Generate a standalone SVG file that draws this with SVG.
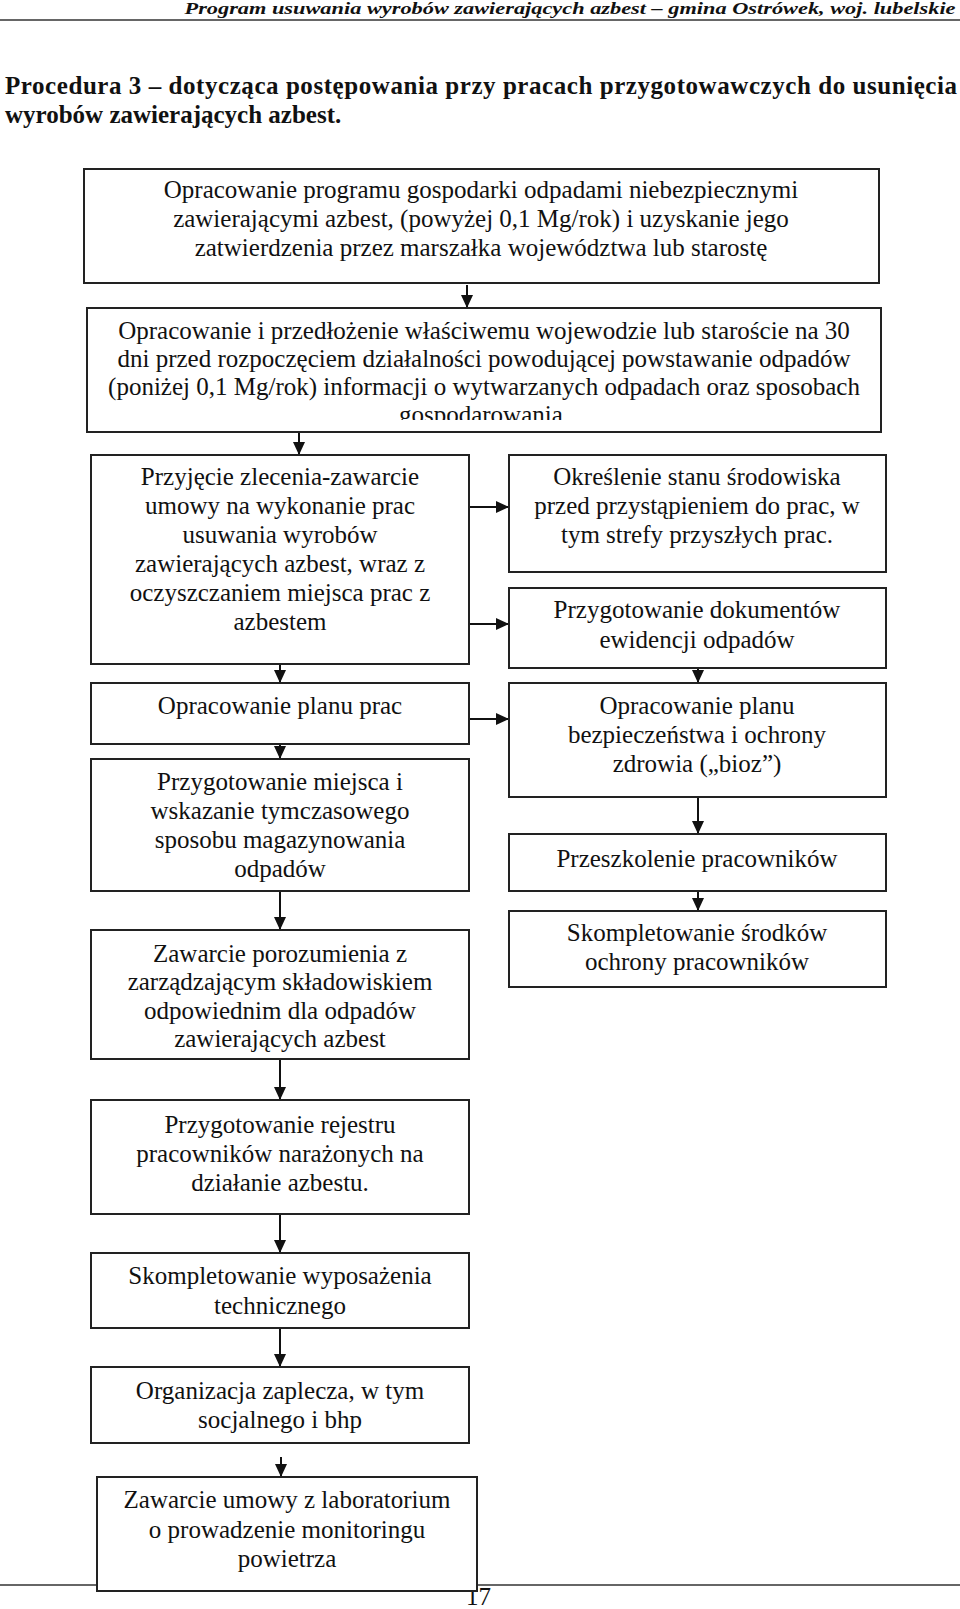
<svg xmlns="http://www.w3.org/2000/svg" width="960" height="1609" viewBox="0 0 960 1609">
<defs>
<style>
.bg{fill:#fff}
.box{fill:#fff;stroke:#222;stroke-width:2}
.t{font-family:"Liberation Serif","Times New Roman",serif;font-size:25px;fill:#111;text-anchor:middle}
.conn line{stroke:#111;stroke-width:2;fill:none}
.hdr{font-family:"Liberation Serif","Times New Roman",serif;font-size:17px;font-weight:bold;font-style:italic;fill:#111;text-anchor:middle}
.ttl{font-family:"Liberation Serif","Times New Roman",serif;font-size:25px;font-weight:bold;fill:#111}
</style>
<marker id="ah" markerUnits="userSpaceOnUse" markerWidth="13" markerHeight="12" refX="13" refY="6" orient="auto" viewBox="0 0 13 12">
<path d="M0,0 L13,6 L0,12 z" fill="#111"/>
</marker>
<clipPath id="clip2"><rect x="87" y="308" width="794" height="112"/></clipPath>
</defs>
<rect class="bg" x="0" y="0" width="960" height="1609"/>

<g id="header">
<text class="hdr" x="570" y="14" textLength="771" lengthAdjust="spacingAndGlyphs">Program  usuwania wyrobów zawierających azbest – gmina Ostrówek, woj. lubelskie</text>
<line x1="0" y1="20" x2="960" y2="20" stroke="#333" stroke-width="1.5"/>
</g>

<g id="title">
<text class="ttl" x="5" y="94" textLength="952" lengthAdjust="spacing">Procedura 3 – dotycząca postępowania przy pracach przygotowawczych do usunięcia</text>
<text class="ttl" x="5" y="123">wyrobów zawierających azbest.</text>
</g>

<g id="footer">
<line x1="0" y1="1585" x2="960" y2="1585" stroke="#333" stroke-width="1.5"/>
<text x="466" y="1605" style="font-family:'Liberation Serif','Times New Roman',serif;font-size:25px;fill:#111">17</text>
</g>

<g id="connectors" class="conn">
<line x1="467" y1="285" x2="467" y2="308" marker-end="url(#ah)"/>
<line x1="299" y1="433" x2="299" y2="455" marker-end="url(#ah)"/>
<line x1="469" y1="507" x2="509" y2="507" marker-end="url(#ah)"/>
<line x1="469" y1="624" x2="509" y2="624" marker-end="url(#ah)"/>
<line x1="280" y1="664" x2="280" y2="683" marker-end="url(#ah)"/>
<line x1="698" y1="668" x2="698" y2="683" marker-end="url(#ah)"/>
<line x1="469" y1="719" x2="509" y2="719" marker-end="url(#ah)"/>
<line x1="280" y1="740" x2="280" y2="759" marker-end="url(#ah)"/>
<line x1="698" y1="797" x2="698" y2="834" marker-end="url(#ah)"/>
<line x1="698" y1="891" x2="698" y2="911" marker-end="url(#ah)"/>
<line x1="280" y1="891" x2="280" y2="930" marker-end="url(#ah)"/>
<line x1="280" y1="1060" x2="280" y2="1100" marker-end="url(#ah)"/>
<line x1="280" y1="1214" x2="280" y2="1253" marker-end="url(#ah)"/>
<line x1="280" y1="1328" x2="280" y2="1367" marker-end="url(#ah)"/>
<line x1="281" y1="1457" x2="281" y2="1477" marker-end="url(#ah)"/>
</g>

<g id="n1">
<rect class="box" x="84" y="169" width="795" height="114"/>
<text class="t" x="481" y="198">Opracowanie programu gospodarki odpadami niebezpiecznymi</text>
<text class="t" x="481" y="227">zawierającymi azbest, (powyżej 0,1 Mg/rok) i uzyskanie jego</text>
<text class="t" x="481" y="256">zatwierdzenia przez marszałka województwa lub starostę</text>
</g>

<g id="n2">
<rect class="box" x="87" y="308" width="794" height="124"/>
<g clip-path="url(#clip2)">
<text class="t" x="484" y="339">Opracowanie i przedłożenie właściwemu wojewodzie lub staroście na 30</text>
<text class="t" x="484" y="367">dni przed rozpoczęciem działalności powodującej powstawanie odpadów</text>
<text class="t" x="484" y="395">(poniżej 0,1 Mg/rok) informacji o wytwarzanych odpadach oraz sposobach</text>
<text class="t" x="484" y="423">gospodarowania.</text>
</g>
</g>

<g id="n3">
<rect class="box" x="91" y="455" width="378" height="209"/>
<text class="t" x="280" y="485">Przyjęcie zlecenia-zawarcie</text>
<text class="t" x="280" y="514">umowy na wykonanie prac</text>
<text class="t" x="280" y="543">usuwania wyrobów</text>
<text class="t" x="280" y="572">zawierających azbest, wraz z</text>
<text class="t" x="280" y="601">oczyszczaniem miejsca prac z</text>
<text class="t" x="280" y="630">azbestem</text>
</g>

<g id="n4">
<rect class="box" x="509" y="455" width="377" height="117"/>
<text class="t" x="697" y="485">Określenie stanu środowiska</text>
<text class="t" x="697" y="514">przed przystąpieniem do prac, w</text>
<text class="t" x="697" y="543">tym strefy przyszłych prac.</text>
</g>

<g id="n5">
<rect class="box" x="509" y="588" width="377" height="80"/>
<text class="t" x="697" y="618">Przygotowanie dokumentów</text>
<text class="t" x="697" y="648">ewidencji odpadów</text>
</g>

<g id="n6">
<rect class="box" x="91" y="683" width="378" height="61"/>
<text class="t" x="280" y="714">Opracowanie planu prac</text>
</g>

<g id="n7">
<rect class="box" x="509" y="683" width="377" height="114"/>
<text class="t" x="697" y="714">Opracowanie planu</text>
<text class="t" x="697" y="743">bezpieczeństwa i ochrony</text>
<text class="t" x="697" y="772">zdrowia („bioz”)</text>
</g>

<g id="n8">
<rect class="box" x="91" y="759" width="378" height="132"/>
<text class="t" x="280" y="790">Przygotowanie miejsca i</text>
<text class="t" x="280" y="819">wskazanie tymczasowego</text>
<text class="t" x="280" y="848">sposobu magazynowania</text>
<text class="t" x="280" y="877">odpadów</text>
</g>

<g id="n9">
<rect class="box" x="509" y="834" width="377" height="57"/>
<text class="t" x="697" y="867">Przeszkolenie pracowników</text>
</g>

<g id="n10">
<rect class="box" x="509" y="911" width="377" height="76"/>
<text class="t" x="697" y="941">Skompletowanie środków</text>
<text class="t" x="697" y="970">ochrony pracowników</text>
</g>

<g id="n11">
<rect class="box" x="91" y="930" width="378" height="129"/>
<text class="t" x="280" y="962">Zawarcie porozumienia z</text>
<text class="t" x="280" y="990">zarządzającym składowiskiem</text>
<text class="t" x="280" y="1019">odpowiednim dla odpadów</text>
<text class="t" x="280" y="1047">zawierających azbest</text>
</g>

<g id="n12">
<rect class="box" x="91" y="1100" width="378" height="114"/>
<text class="t" x="280" y="1133">Przygotowanie rejestru</text>
<text class="t" x="280" y="1162">pracowników narażonych na</text>
<text class="t" x="280" y="1191">działanie azbestu.</text>
</g>

<g id="n13">
<rect class="box" x="91" y="1253" width="378" height="75"/>
<text class="t" x="280" y="1284">Skompletowanie wyposażenia</text>
<text class="t" x="280" y="1314">technicznego</text>
</g>

<g id="n14">
<rect class="box" x="91" y="1367" width="378" height="76"/>
<text class="t" x="280" y="1399">Organizacja zaplecza, w tym</text>
<text class="t" x="280" y="1428">socjalnego i bhp</text>
</g>

<g id="n15">
<rect class="box" x="97" y="1477" width="380" height="114"/>
<text class="t" x="287" y="1508">Zawarcie umowy z laboratorium</text>
<text class="t" x="287" y="1538">o prowadzenie monitoringu</text>
<text class="t" x="287" y="1567">powietrza</text>
</g>
</svg>
